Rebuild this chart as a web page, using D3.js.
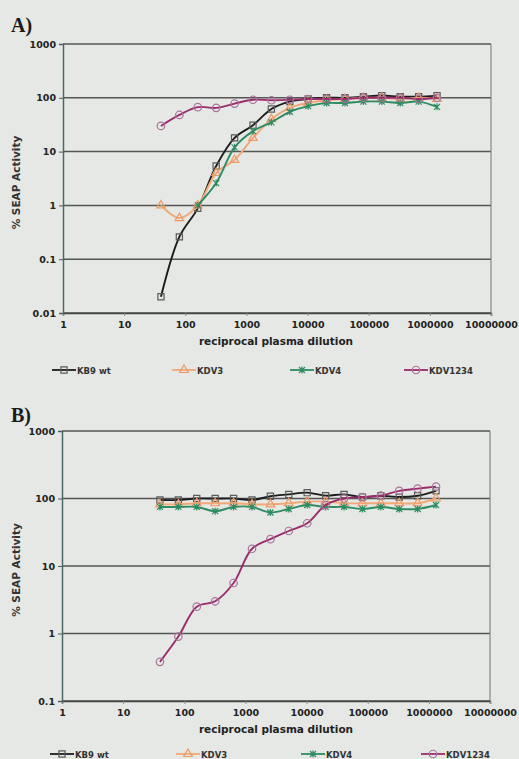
<!DOCTYPE html>
<html>
<head>
<meta charset="utf-8">
<script src="https://cdn.jsdelivr.net/npm/d3@7"></script>
<style>
  body { margin: 0; background: #e5e8e4; }
  svg { display: block; }
  .tick text { font-family: "DejaVu Sans", sans-serif; font-weight: bold; font-size: 9.5px; fill: #222; }
</style>
</head>
<body>
<div id="chart"></div>
<script>
// Dilution series (x values) shared by both panels
const dilutions = [40, 80, 160, 320, 640, 1280, 2560, 5120, 10240, 20480, 40960, 81920, 163840, 327680, 655360, 1310720];
const seriesNames = ['KB9 wt', 'KDV3', 'KDV4', 'KDV1234'];
const xTicks = [1, 10, 100, 1000, 10000, 100000, 1000000, 10000000];
const yTicksA = [0.01, 0.1, 1, 10, 100, 1000];
const yTicksB = [0.1, 1, 10, 100, 1000];

// Panel A values (% SEAP activity)
const aKb9 = [0.02, 0.26, 0.88, 5.4, 18, 31, 62, 85, 95, 100, 100, 105, 110, 105, 105, 110];
const aKdv3 = [1.0, 0.58, 1.0, 4.0, 7, 18, 40, 65, 80, 90, 95, 100, 100, 95, 100, 95];
const aKdv4 = [null, null, 1.0, 2.6, 12, 24, 35, 55, 70, 80, 80, 85, 85, 80, 85, 68];
const aKdv1234 = [30, 48, 67, 65, 78, 92, 90, 92, 95, 95, 95, 100, 100, 100, 95, 100];

// Panel B values (% SEAP activity)
const bKb9 = [95, 95, 100, 100, 100, 95, 108, 115, 122, 110, 115, 105, 110, 105, 110, 130];
const bKdv3 = [82, 82, 85, 85, 85, 82, 82, 85, 90, 90, 85, 85, 85, 85, 85, 100];
const bKdv4 = [75, 75, 75, 65, 75, 75, 62, 70, 80, 75, 75, 70, 75, 70, 70, 80];
const bKdv1234 = [0.38, 0.9, 2.5, 3.0, 5.6, 18, 25, 33, 43, 80, 100, 105, 110, 130, 140, 150];

const W = 519, H = 759;
const svg = d3.select('#chart').append('svg').attr('width', W).attr('height', H);

// line + marker styling per series
const styles = {
  'KB9 wt': { line: '#1c1c1c', mark: '#5a5a5a', shape: 'square' },
  'KDV3': { line: '#f2a877', mark: '#ee9a66', shape: 'triangle' },
  'KDV4': { line: '#2e8b62', mark: '#2e8b62', shape: 'star' },
  'KDV1234': { line: '#9a2c6c', mark: '#a9739a', shape: 'circle' }
};

function markerPath(shape) {
  if (shape === 'square') return d3.symbol(d3.symbolSquare, 38)();
  if (shape === 'triangle') return d3.symbol(d3.symbolTriangle, 32)();
  if (shape === 'circle') return d3.symbol(d3.symbolCircle, 44)();
  // Excel "star": x plus vertical bar
  return 'M-3,-3L3,3M-3,3L3,-3M0,-3.5L0,3.5';
}

class SeapPanel {
  constructor(_config, _series) {
    this.config = _config;
    this.series = _series;
    this.initVis();
  }

  initVis() {
    let vis = this;
    const c = vis.config;

    vis.xScale = d3.scaleLog().domain([1, 1e7]).range([c.left, c.right]);
    vis.yScale = d3.scaleLog().domain(c.yDomain).range([c.bottom, c.top]);

    vis.g = svg.append('g');

    // Horizontal gridlines at each decade
    vis.g.append('g')
      .selectAll('line')
      .data(c.yTicks)
      .join('line')
      .attr('x1', c.left).attr('x2', c.right)
      .attr('y1', d => vis.yScale(d)).attr('y2', d => vis.yScale(d))
      .attr('stroke', '#555')
      .attr('stroke-width', 1.5);

    // right border of plot area
    vis.g.append('line')
      .attr('x1', c.right).attr('x2', c.right)
      .attr('y1', c.top).attr('y2', c.bottom)
      .attr('stroke', '#777').attr('stroke-width', 1);

    // Axes
    const xAxis = d3.axisBottom(vis.xScale)
      .tickValues(xTicks)
      .tickFormat(d3.format('d'))
      .tickSize(3)
      .tickPadding(5);
    vis.g.append('g')
      .attr('transform', `translate(0,${c.bottom})`)
      .call(xAxis)
      .call(g => g.select('.domain').attr('stroke', '#444').attr('stroke-width', 1.5))
      .call(g => g.selectAll('.tick line').attr('stroke', '#888'));

    const yAxis = d3.axisLeft(vis.yScale)
      .tickValues(c.yTicks)
      .tickFormat(d => d >= 1 ? d3.format('d')(d) : String(d))
      .tickSize(4)
      .tickPadding(3);
    vis.g.append('g')
      .attr('transform', `translate(${c.left},0)`)
      .call(yAxis)
      .call(g => g.select('.domain').attr('stroke', '#4b6a66').attr('stroke-width', 1.5))
      .call(g => g.selectAll('.tick line').attr('stroke', '#555'));

    // Panel label
    vis.g.append('text')
      .attr('x', 11).attr('y', c.labelY)
      .attr('font-family', '"Liberation Serif", serif')
      .attr('font-weight', 'bold')
      .attr('font-size', 20)
      .attr('fill', '#1a1a1a')
      .text(c.label);

    // Axis titles
    vis.g.append('text')
      .attr('x', 276).attr('y', c.bottom + 32)
      .attr('text-anchor', 'middle')
      .attr('font-family', '"DejaVu Sans", sans-serif')
      .attr('font-weight', 'bold')
      .attr('font-size', 10.5)
      .attr('fill', '#222')
      .text('reciprocal plasma dilution');

    vis.g.append('text')
      .attr('transform', `translate(20,${(c.top + c.bottom) / 2 + 4}) rotate(-90)`)
      .attr('text-anchor', 'middle')
      .attr('font-family', '"DejaVu Sans", sans-serif')
      .attr('font-weight', 'bold')
      .attr('font-size', 10.5)
      .attr('fill', '#333')
      .text('% SEAP Activity');

    vis.updateVis();
    vis.drawLegend();
  }

  updateVis() {
    let vis = this;

    const line = d3.line()
      .x(d => vis.xScale(d.x))
      .y(d => vis.yScale(d.v))
      .curve(d3.curveCatmullRom.alpha(0.5));

    vis.series.forEach(s => {
      const st = styles[s.name];
      const pts = dilutions.map((x, i) => ({ x: x, v: s.values[i] })).filter(d => d.v != null);
      vis.g.append('path')
        .datum(pts)
        .attr('d', line)
        .attr('fill', 'none')
        .attr('stroke', st.line)
        .attr('stroke-width', 1.9);

      vis.g.append('g')
        .selectAll('path')
        .data(pts)
        .join('path')
        .attr('transform', d => `translate(${vis.xScale(d.x)},${vis.yScale(d.v)})`)
        .attr('d', markerPath(st.shape))
        .attr('fill', 'none')
        .attr('stroke', st.mark)
        .attr('stroke-width', 1.2);
    });
  }

  drawLegend() {
    let vis = this;
    const c = vis.config;
    const legend = vis.g.append('g').attr('transform', `translate(0,${c.legendY})`);
    const items = legend.selectAll('g')
      .data(vis.series)
      .join('g')
      .attr('transform', (d, i) => `translate(${c.legendX[i]},0)`);

    items.append('line')
      .attr('x1', 0).attr('x2', 24)
      .attr('stroke', d => styles[d.name].line)
      .attr('stroke-width', 1.8);
    items.append('path')
      .attr('transform', 'translate(12,0)')
      .attr('d', d => markerPath(styles[d.name].shape))
      .attr('fill', 'none')
      .attr('stroke', d => styles[d.name].mark)
      .attr('stroke-width', 1.2);
    items.append('text')
      .attr('x', 25).attr('y', 3.5)
      .attr('font-family', '"DejaVu Sans", sans-serif')
      .attr('font-weight', 'bold')
      .attr('font-size', 8.5)
      .attr('fill', '#333')
      .text(d => d.name);
  }
}

new SeapPanel({
  label: 'A)', labelY: 32,
  left: 63, right: 491, top: 44, bottom: 313,
  yDomain: [0.01, 1000], yTicks: yTicksA,
  legendY: 370, legendX: [52, 172, 290, 404]
}, [
  { name: seriesNames[0], values: aKb9 },
  { name: seriesNames[1], values: aKdv3 },
  { name: seriesNames[2], values: aKdv4 },
  { name: seriesNames[3], values: aKdv1234 }
]);

new SeapPanel({
  label: 'B)', labelY: 422,
  left: 62, right: 490, top: 431, bottom: 701,
  yDomain: [0.1, 1000], yTicks: yTicksB,
  legendY: 754, legendX: [50, 176, 301, 421]
}, [
  { name: seriesNames[0], values: bKb9 },
  { name: seriesNames[1], values: bKdv3 },
  { name: seriesNames[2], values: bKdv4 },
  { name: seriesNames[3], values: bKdv1234 }
]);
</script>
</body>
</html>
